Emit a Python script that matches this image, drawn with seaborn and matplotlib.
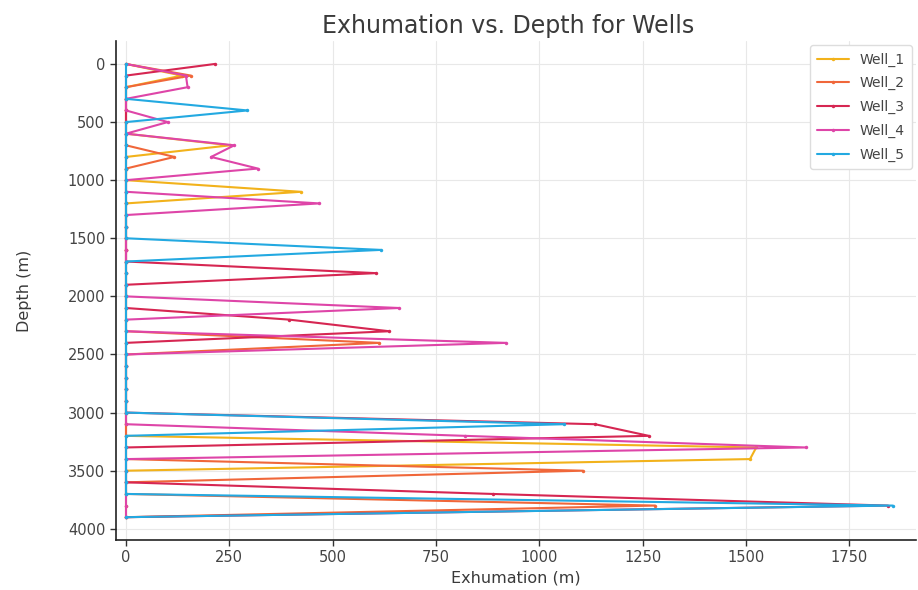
import matplotlib
matplotlib.use("Agg")
import matplotlib.pyplot as plt
import numpy as np
import pandas as pd
import seaborn as sns

# ---- data ----
depths = list(range(0, 4000, 100))  # 0 ... 3900 m
wells = ["Well_1", "Well_2", "Well_3", "Well_4", "Well_5"]

def spikes(d):
    vals = [0.0] * len(depths)
    for i, v in d.items():
        vals[i] = v
    return vals

well_1 = spikes({1: 135, 7: 252, 11: 423, 33: 1525, 34: 1510})
well_2 = spikes({1: 157, 8: 117, 24: 613, 35: 1105, 38: 1280})
well_3 = spikes({0: 215, 18: 605, 22: 395, 23: 637, 31: 1135, 32: 1265,
                 37: 887, 38: 1843})
well_4 = spikes({1: 145, 2: 149, 5: 101, 7: 262, 8: 206, 9: 319, 12: 468,
                 21: 661, 24: 920, 32: 820, 33: 1645})
well_5 = spikes({4: 294, 16: 617, 31: 1060, 38: 1855})

series = [well_1, well_2, well_3, well_4, well_5]
colors = ["#F2B21B", "#F0673A", "#D62652", "#DE45A8", "#23A9E1"]

df = pd.concat(
    [pd.DataFrame({"Well": w, "Depth": depths, "Exhumation": s})
     for w, s in zip(wells, series)],
    ignore_index=True,
)

# ---- style ----
sns.set_style("whitegrid", {
    "axes.edgecolor": "#222222",
    "grid.color": "#e8e8e8",
    "xtick.bottom": True,
    "ytick.left": True,
    "xtick.color": "#333333",
    "ytick.color": "#333333",
})
plt.rcParams["font.family"] = ["DejaVu Sans"]

fig, ax = plt.subplots(figsize=(9.18, 5.9), dpi=100)
fig.subplots_adjust(left=0.126, right=0.998, bottom=0.085, top=0.93)

sns.lineplot(
    data=df, x="Exhumation", y="Depth", hue="Well",
    palette=dict(zip(wells, colors)), sort=False, estimator=None,
    marker=".", markersize=5, markeredgewidth=0, linewidth=1.5, ax=ax,
)

ax.invert_yaxis()
ax.set_xlim(-25, 1912)
ax.set_xticks(np.arange(0, 1751, 250))
ax.set_yticks(np.arange(0, 4001, 500))
ax.tick_params(axis="both", labelsize=10.5, length=4, width=1, direction="out",
               labelcolor="#444444")

ax.set_title("Exhumation vs. Depth for Wells", fontsize=17, color="#3a3a3a",
             pad=6, x=0.49)
ax.set_xlabel("Exhumation (m)", fontsize=11.5, color="#3a3a3a")
ax.set_ylabel("Depth (m)", fontsize=11.5, color="#3a3a3a", labelpad=26)

for side in ["top", "right"]:
    ax.spines[side].set_visible(False)
for side in ["left", "bottom"]:
    ax.spines[side].set_linewidth(1.2)

handles, labels = ax.get_legend_handles_labels()
ax.legend(handles, labels, loc="upper right", fontsize=10, frameon=True,
          labelspacing=0.7, handlelength=2.3, borderpad=0.5, borderaxespad=0.3,
          edgecolor="#dddddd", framealpha=1.0, fancybox=True,
          labelcolor="#444444")

fig.savefig("out.png", dpi=100)
